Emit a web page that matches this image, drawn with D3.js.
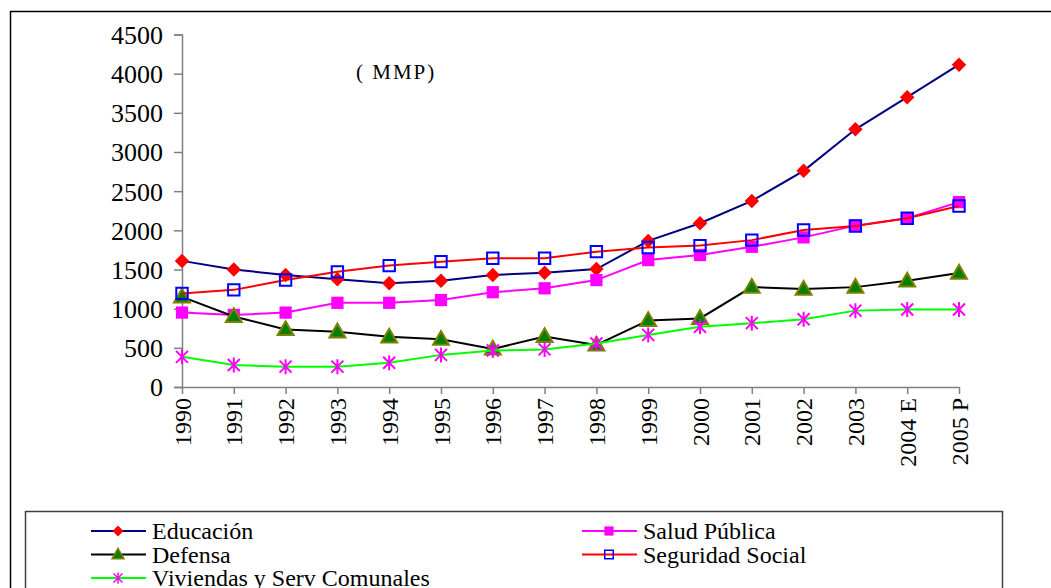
<!DOCTYPE html>
<html>
<head>
  <meta charset="utf-8" />
  <title>Gasto social</title>
  <script type="text/javascript" src="https://cdn.jsdelivr.net/npm/d3@7"></script>
  <style type="text/css">
  body {
    margin: 0;
    background: #fff;
  }
  .axis path, .axis line {
    stroke: #808080;
    stroke-width: 1.5px;
  }
  .line {
    fill: none;
    stroke-width: 2px;
  }
  </style>
</head>
<body>
  <script type="text/javascript">
    var serif = 'Liberation Serif'

    // years on the x axis
    var years = ['1990', '1991', '1992', '1993', '1994', '1995', '1996', '1997',
                 '1998', '1999', '2000', '2001', '2002', '2003', '2004 E', '2005 P']
    var yTicks = [0, 500, 1000, 1500, 2000, 2500, 3000, 3500, 4000, 4500]

    // values (MMP)
    var educacion = [1610, 1500, 1430, 1375, 1325, 1355, 1430, 1460, 1505, 1865, 2090, 2375, 2760, 3290, 3700, 4115]
    var salud     = [950, 920, 950, 1075, 1075, 1110, 1210, 1260, 1365, 1620, 1685, 1790, 1910, 2060, 2155, 2360]
    var defensa   = [1150, 900, 735, 705, 640, 610, 485, 645, 536, 850, 875, 1275, 1250, 1275, 1355, 1455]
    var seguridad = [1195, 1240, 1365, 1470, 1550, 1600, 1643, 1643, 1728, 1780, 1805, 1875, 2005, 2055, 2155, 2310]
    var viviendas = [385, 280, 260, 260, 310, 410, 465, 480, 555, 665, 770, 815, 865, 975, 990, 990]

    var series = [
      {name: 'Educación', values: educacion, line: '#000080', mark: 'diamond'},
      {name: 'Salud Pública', values: salud, line: '#ff00ff', mark: 'square'},
      {name: 'Defensa', values: defensa, line: '#000000', mark: 'triangle'},
      {name: 'Seguridad Social', values: seguridad, line: '#ff0000', mark: 'open'},
      {name: 'Viviendas y Serv Comunales', values: viviendas, line: '#00ff00', mark: 'star'}
    ]

    var w = 1051,
        h = 588

    var x = d3.scalePoint().domain(years).range([182, 959]),
        y = d3.scaleLinear().domain([0, 4500]).range([387, 34.5])

    var svg = d3.select(document.body)
      .append('svg')
      .attr('width', w)
      .attr('height', h)
      .attr('font-family', serif)

    // outer frame and legend box
    svg.append('rect')
      .attr('x', 10.5).attr('y', 11.5)
      .attr('width', 1100).attr('height', 700)
      .attr('fill', 'none').attr('stroke', '#000').attr('stroke-width', 1.5)

    svg.append('rect')
      .attr('x', 25.5).attr('y', 511.5)
      .attr('width', 977).attr('height', 120)
      .attr('fill', '#fff').attr('stroke', '#404040').attr('stroke-width', 1.5)

    svg.append('g')
      .attr('class', 'axis')
      .attr('transform', 'translate(182,0)')
      .call(d3.axisLeft(y).tickValues(yTicks).tickFormat(d3.format('d')).tickSize(8).tickPadding(11))
      .attr('font-family', serif)
      .call(function(g) {
        g.selectAll('text').attr('font-size', 26).attr('dy', '0.34em').attr('fill', '#000')
      })

    svg.append('g')
      .attr('class', 'axis')
      .attr('transform', 'translate(0,387)')
      .call(d3.axisBottom(x).tickSize(7).tickSizeOuter(0))
      .attr('font-family', serif)
      .call(function(g) {
        g.selectAll('text')
          .attr('font-size', 24)
          .attr('fill', '#000')
          .attr('transform', 'rotate(-90)')
          .attr('text-anchor', 'end')
          .attr('x', -11)
          .attr('y', 0)
          .attr('dy', '0.34em')
      })

    svg.append('text')
      .attr('x', 356).attr('y', 79)
      .attr('font-size', 21)
      .attr('letter-spacing', 2)
      .text('( MMP)')

    function marker(sel, type) {
      if (type == 'diamond') {
        sel.append('path')
          .attr('d', d3.symbol(d3.symbolSquare, 105)())
          .attr('transform', 'rotate(45)')
          .attr('fill', '#ff0000')
      } else if (type == 'square') {
        sel.append('path')
          .attr('d', d3.symbol(d3.symbolSquare, 150)())
          .attr('fill', '#ff00ff')
      } else if (type == 'open') {
        sel.append('path')
          .attr('d', d3.symbol(d3.symbolSquare, 130)())
          .attr('fill', 'none')
          .attr('stroke', '#0000ff')
          .attr('stroke-width', 2)
      } else if (type == 'triangle') {
        sel.append('path')
          .attr('d', d3.symbol(d3.symbolTriangle, 110)())
          .attr('transform', 'translate(0,1)')
          .attr('fill', '#008000')
          .attr('stroke', '#808000')
          .attr('stroke-width', 2)
      } else {
        sel.append('path')
          .attr('d', 'M-6,-6L6,6M-6,6L6,-6M0,-7.5L0,7.5')
          .attr('stroke', '#ff00ff')
          .attr('stroke-width', 2)
          .attr('fill', 'none')
      }
    }

    var line = d3.line()
      .x(function(d, i) { return x(years[i]) })
      .y(function(d) { return y(d) })

    series.forEach(function(s) {
      var g = svg.append('g')
      g.append('path')
        .attr('class', 'line')
        .attr('stroke', s.line)
        .attr('d', line(s.values))
      g.selectAll('g.pt')
        .data(s.values)
      .enter().append('g')
        .attr('class', 'pt')
        .attr('transform', function(d, i) { return 'translate(' + x(years[i]) + ',' + y(d) + ')' })
        .each(function() { marker(d3.select(this), s.mark) })
    })

    // legend, two columns
    var legend = svg.append('g')
    series.forEach(function(s, i) {
      var col = i % 2, row = Math.floor(i / 2)
      var lx = col ? 582 : 91,
          ly = 531 + row * 23.5
      var item = legend.append('g').attr('transform', 'translate(' + lx + ',' + ly + ')')
      item.append('line')
        .attr('x1', 0).attr('x2', 55)
        .attr('stroke', s.line).attr('stroke-width', 2)
      var m = item.append('g').attr('transform', 'translate(27,0) scale(0.75)')
      marker(m, s.mark)
      item.append('text')
        .attr('x', 61)
        .attr('dy', '0.34em')
        .attr('font-size', 24)
        .text(s.name)
    })
  </script>
</body>
</html>
